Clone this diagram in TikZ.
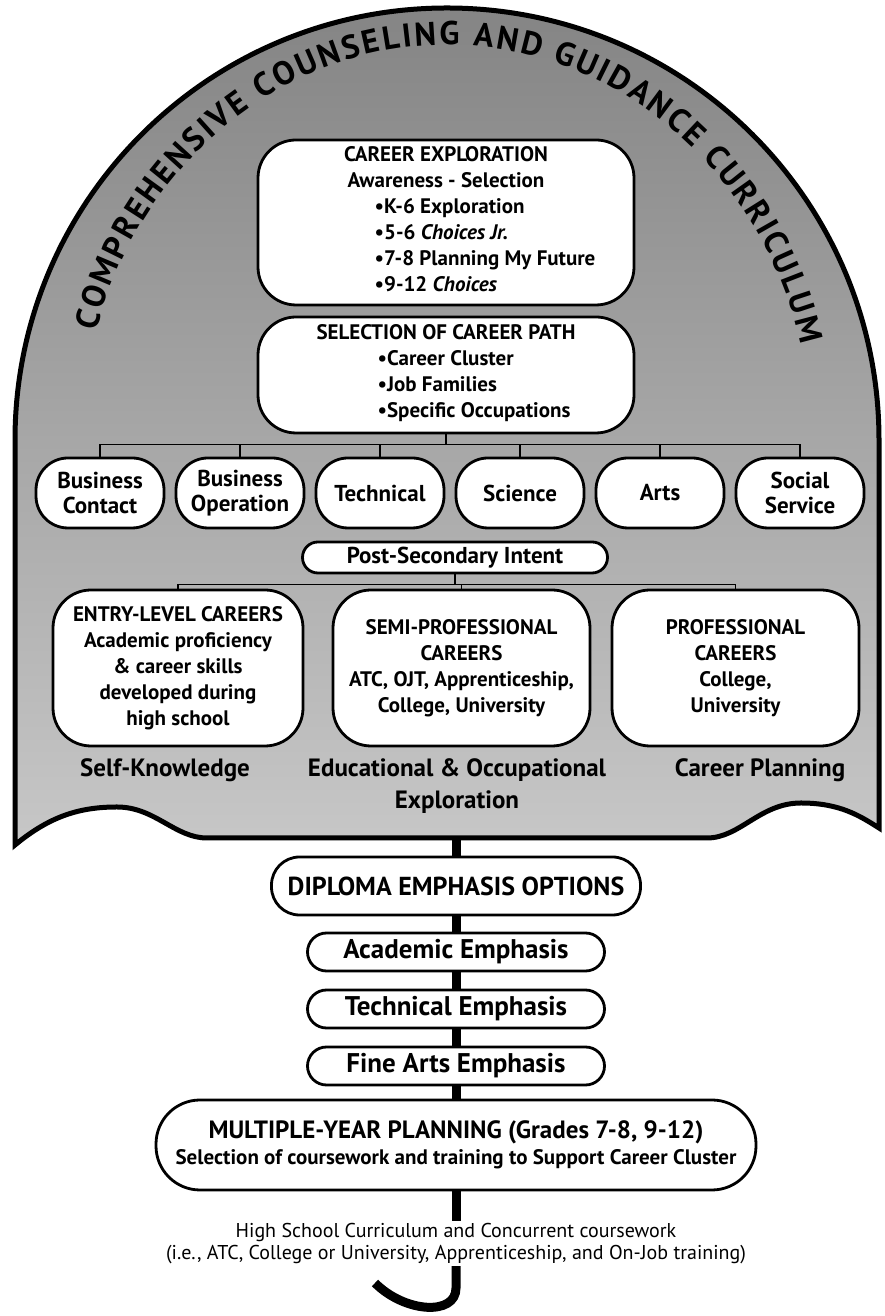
\documentclass[tikz,border=0pt]{standalone}
\usepackage{fontspec}
\setmainfont{PT Sans}
\usetikzlibrary{decorations.text}

\begin{document}
\begin{tikzpicture}[x=0.5pt, y=0.5pt, node distance=70pt, inner sep=0pt]
    \tikzstyle{dome}=[draw=black, line width=2.5pt, top color=black!48, bottom color=black!22]
    \tikzstyle{panel}=[rectangle, rounded corners=19pt, draw=black, line width=1.4pt, fill=white, align=center, font=\bfseries\fontsize{10.5}{13}\selectfont]
    \tikzstyle{cluster}=[rectangle, rounded corners=16pt, draw=black, line width=1.4pt, fill=white, minimum width=64pt, minimum height=35pt, align=center, font=\bfseries\fontsize{11.5}{12.5}\selectfont]
    \tikzstyle{pill}=[rectangle, rounded corners=9pt, draw=black, line width=1.4pt, fill=white, align=center]
    \tikzstyle{option}=[pill, minimum width=148.5pt, minimum height=19pt, rounded corners=9.5pt, font=\bfseries\fontsize{13.5}{14}\selectfont]
    \tikzstyle{strand}=[align=center, font=\bfseries\fontsize{12.5}{16}\selectfont]
    \tikzstyle{tree}=[draw=black, line width=0.8pt]
    \tikzstyle{bar}=[draw=black, line width=4.5pt]

    \useasboundingbox (0,0) rectangle (884,1316);

    \draw[dome] (15,876) arc[start angle=180, end angle=0, radius=432] -- (879,488)
        .. controls (860,500) and (840,513) .. (801,513)
        .. controls (760,513) and (740,478) .. (707,478) -- (207,478)
        .. controls (175,478) and (155,509) .. (117,509)
        .. controls (80,509) and (50,500) .. (15,471) -- cycle;

    \path[decorate, decoration={text along path, text align=fit to path,
        text={|\bfseries\fontsize{16.5}{18}\selectfont|COMPREHENSIVE COUNSELING AND GUIDANCE CURRICULUM}}]
        (96.1,984.9) arc[start angle=164, end angle=14, x radius=365, y radius=395];

    \node[panel, minimum width=188pt, minimum height=82.5pt] (CE) at (446,1093.5) {CAREER EXPLORATION\\Awareness - Selection\\
        \hspace*{39pt}\begin{tabular}[t]{@{}l@{}}\textbullet K-6 Exploration\\\textbullet 5-6 \textit{Choices Jr.}\\\textbullet 7-8 Planning My Future\\\textbullet 9-12 \textit{Choices}\end{tabular}};
    \node[panel, minimum width=188pt, minimum height=58pt] (SCP) at (446,941) {SELECTION OF CAREER PATH\\
        \hspace*{28pt}\begin{tabular}[t]{@{}l@{}}\textbullet Career Cluster\\\textbullet Job Families\\\textbullet Specific Occupations\end{tabular}};

    \node[cluster] (BC) at (100,823) {Business\\Contact};
    \node[cluster] (BO) [right of=BC] {Business\\Operation};
    \node[cluster] (TE) [right of=BO] {Technical};
    \node[cluster] (SC) [right of=TE] {Science};
    \node[cluster] (AR) [right of=SC] {Arts};
    \node[cluster] (SS) [right of=AR] {Social\\Service};

    \draw[tree] (SCP.south) -- ++(0,-10) -| (BC.north);
    \draw[tree] (SCP.south) -- ++(0,-10) -| (BO.north);
    \draw[tree] (SCP.south) -- ++(0,-10) -| (TE.north);
    \draw[tree] (SCP.south) -- ++(0,-10) -| (SC.north);
    \draw[tree] (SCP.south) -- ++(0,-10) -| (AR.north);
    \draw[tree] (SCP.south) -- ++(0,-10) -| (SS.north);

    \node[pill, minimum width=152.5pt, minimum height=15.5pt, rounded corners=7.7pt, font=\bfseries\fontsize{11.5}{12}\selectfont] (PSI) at (455,758.5) {Post-Secondary Intent};

    \node[panel, minimum width=125pt, minimum height=78pt] (EL) at (178,648) {ENTRY-LEVEL CAREERS\\Academic proficiency\\\& career skills\\developed during\\high school};
    \node[panel, minimum width=128.5pt, minimum height=78pt] (SP) at (461.5,648) {SEMI-PROFESSIONAL\\CAREERS\\ATC, OJT, Apprenticeship,\\College, University};
    \node[panel, minimum width=123.5pt, minimum height=78pt] (PR) at (735.5,648) {PROFESSIONAL\\CAREERS\\College,\\University};

    \draw[tree] (PSI.south) -- ++(0,-10) -| (EL.north);
    \draw[tree] (PSI.south) -- ++(0,-10) -| (SP.north);
    \draw[tree] (PSI.south) -- ++(0,-10) -| (PR.north);

    \node[strand] (SK) at (165,546) {Self-Knowledge};
    \node[strand] (EO) at (457,530) {Educational \& Occupational\\Exploration};
    \node[strand] (CP) at (760,546) {Career Planning};

    \coordinate (foot) at (456,478);
    \node[pill, minimum width=184.5pt, minimum height=29pt, rounded corners=14pt, font=\bfseries\fontsize{13}{14}\selectfont] (DEO) at (456,430) {DIPLOMA EMPHASIS OPTIONS};
    \node[option] (AE) at (456,364) {Academic Emphasis};
    \node[option, node distance=28.5pt] (TEM) [below of=AE] {Technical Emphasis};
    \node[option, node distance=28.5pt] (FAE) [below of=TEM] {Fine Arts Emphasis};
    \node[pill, minimum width=300pt, minimum height=45pt, rounded corners=22pt, font=\bfseries\fontsize{12.5}{13}\selectfont] (MYP) at (456,171) {MULTIPLE-YEAR PLANNING (Grades 7-8, 9-12)\\{\fontsize{10.5}{13}\selectfont Selection of coursework and training to Support Career Cluster}};
    \node[align=center, inner sep=1pt, font=\fontsize{10}{11}\selectfont] (HS) at (456,72.5) {High School Curriculum and Concurrent coursework\\(i.e., ATC, College or University, Apprenticeship, and On-Job training)};
    \coordinate (hook) at (456,28);
    \coordinate (hookend) at (375,33);

    \draw[bar] (foot) -- (DEO);
    \draw[bar] (DEO) -- (AE);
    \draw[bar] (AE) -- (TEM);
    \draw[bar] (TEM) -- (FAE);
    \draw[bar] (FAE) -- (MYP);
    \draw[bar] (MYP) -- (HS);
    \draw[bar] (HS) -- (hook) .. controls (456,0) and (405,3) .. (hookend);
\end{tikzpicture}
\end{document}
